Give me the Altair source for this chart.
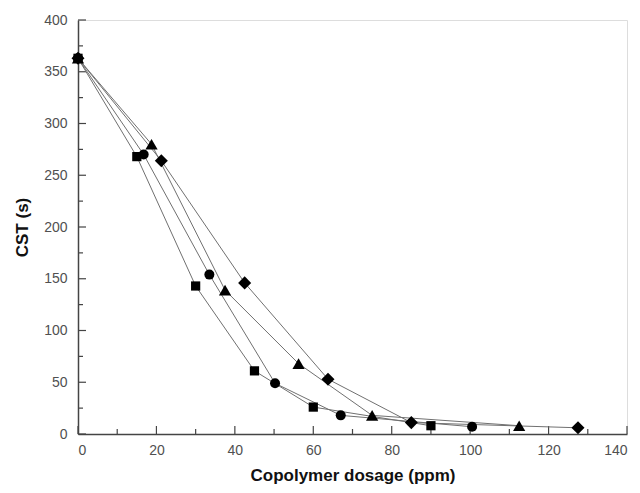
import altair as alt
import pandas as pd

series_names = ["square", "circle", "triangle", "diamond"]
sq_x = [0, 15, 30, 45, 60, 90]
sq_y = [363, 268, 143, 61, 26, 8]
ci_x = [0, 16.75, 33.5, 50.25, 67, 100.5]
ci_y = [363, 270, 154, 49, 18, 7]
tr_x = [0, 18.75, 37.5, 56.25, 75, 112.5]
tr_y = [363, 280, 139, 68, 18, 8]
di_x = [0, 21.25, 42.5, 63.75, 85, 127.5]
di_y = [363, 264, 146, 53, 11, 6]

x_major = [0, 20, 40, 60, 80, 100, 120, 140]
x_minor = [10, 30, 50, 70, 90, 110, 130]
y_major = [0, 50, 100, 150, 200, 250, 300, 350, 400]
y_minor = [25, 75, 125, 175, 225, 275, 325, 375]

rows = []
for name, xs_, ys_ in zip(series_names, [sq_x, ci_x, tr_x, di_x], [sq_y, ci_y, tr_y, di_y]):
    for i, (xv, yv) in enumerate(zip(xs_, ys_)):
        rows.append({"series": name, "x": xv, "y": yv, "i": i})
df = pd.DataFrame(rows)

W, H = 549, 414
xs = alt.Scale(domain=[0, 140], nice=False, zero=False)
ys = alt.Scale(domain=[0, 400], nice=False, zero=False)

lines = alt.Chart(df).mark_line(color="#707070", strokeWidth=1).encode(
    x=alt.X("x:Q", scale=xs, axis=alt.Axis(
        values=x_major, title="Copolymer dosage (ppm)", ticks=False,
        labelFontSize=14, labelColor="#505050", labelFont="Liberation Sans",
        titleFont="Liberation Sans", titleFontSize=17, titleFontWeight="bold",
        titleColor="#111", titlePadding=10, labelPadding=9,
        domainColor="#444", domainWidth=1.5, grid=False)),
    y=alt.Y("y:Q", scale=ys, axis=alt.Axis(
        values=y_major, title="CST (s)", ticks=False,
        labelFontSize=14, labelColor="#505050", labelFont="Liberation Sans",
        titleFont="Liberation Sans", titleFontSize=17, titleFontWeight="bold",
        titleColor="#111", titlePadding=12, labelPadding=11,
        domainColor="#444", domainWidth=1.5, grid=False)),
    detail="series:N",
    order="i:Q",
)

shapes = {"square": ("square", 85), "circle": ("circle", 100),
          "triangle": ("triangle-up", 150), "diamond": ("diamond", 170)}
point_layers = []
for name in series_names:
    shp, sz = shapes[name]
    point_layers.append(
        alt.Chart(df[df["series"] == name]).mark_point(
            filled=True, color="black", opacity=1, shape=shp, size=sz
        ).encode(x=alt.X("x:Q", scale=xs), y=alt.Y("y:Q", scale=ys))
    )

xmaj = alt.Chart(pd.DataFrame({"t": x_major})).mark_rule(color="#444", strokeWidth=1.2).encode(
    x=alt.X("t:Q", scale=xs), y=alt.value(H), y2=alt.value(H - 8))
xmin = alt.Chart(pd.DataFrame({"t": x_minor})).mark_rule(color="#444", strokeWidth=1.2).encode(
    x=alt.X("t:Q", scale=xs), y=alt.value(H), y2=alt.value(H - 5))
ymaj = alt.Chart(pd.DataFrame({"t": y_major})).mark_rule(color="#444", strokeWidth=1.2).encode(
    y=alt.Y("t:Q", scale=ys), x=alt.value(0), x2=alt.value(8))
ymin = alt.Chart(pd.DataFrame({"t": y_minor})).mark_rule(color="#444", strokeWidth=1.2).encode(
    y=alt.Y("t:Q", scale=ys), x=alt.value(0), x2=alt.value(5))

chart = alt.layer(xmaj, xmin, ymaj, ymin, lines, *point_layers).properties(
    width=W, height=H,
    autosize=alt.AutoSizeParams(type="none"),
    padding={"left": 70, "top": 12, "right": 5, "bottom": 51},
).configure_view(stroke=None).configure(background="white")

chart.save("out.html", embed_options={"renderer": "svg", "actions": False})
